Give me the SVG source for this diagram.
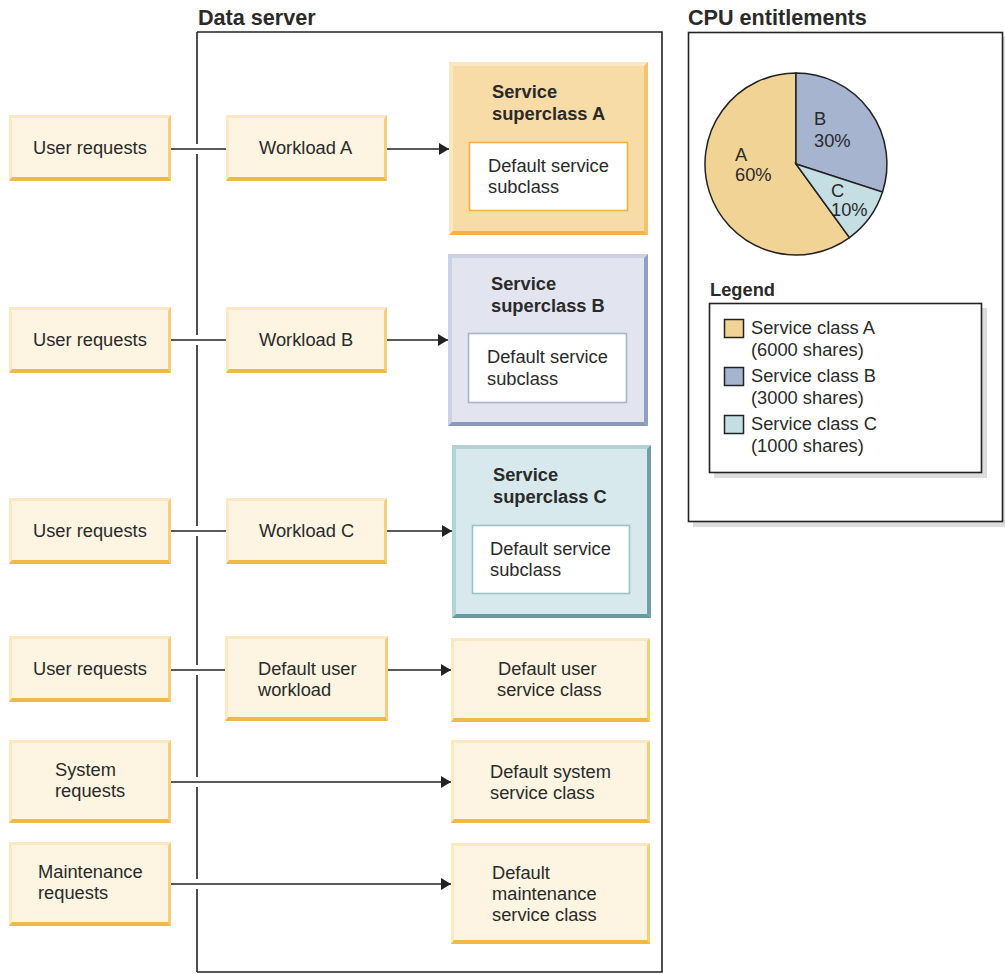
<svg xmlns="http://www.w3.org/2000/svg" width="1005" height="974" viewBox="0 0 1005 974">
<style>
text{font-family:"Liberation Sans",Arial,sans-serif;font-size:18.3px;fill:#2a2a2a}
.b{font-weight:bold}
.t{font-weight:bold;font-size:21.6px}
.fill{fill:#fdf5e1}
.lt{fill:#fde8c4}
.rt{fill:#f6cf7c}
.bt{fill:#f0b947}
.ln{stroke:#222;stroke-width:1.6;fill:none}
.pie{stroke:#222;stroke-width:1.5}
</style>
<defs>
<marker id="ah" markerUnits="userSpaceOnUse" markerWidth="11" markerHeight="12" refX="10" refY="6" orient="auto">
<path d="M0,0 L10,6 L0,12 z" fill="#222"/>
</marker>
</defs>

<text class="t" x="198" y="25">Data server</text>
<text class="t" x="688" y="25">CPU entitlements</text>

<g id="dataserver-frame">
<path class="ln" d="M197,32 H662 V972 H197"/>
<path class="ln" d="M197,32 V144 M197,154 V335 M197,345 V526 M197,536 V665 M197,675 V777 M197,787 V879 M197,889 V972"/>
</g>

<g id="connectors">
<path class="ln" d="M171,149 H226"/>
<path class="ln" d="M387,149 H449" marker-end="url(#ah)"/>
<path class="ln" d="M171,340 H226"/>
<path class="ln" d="M387,340 H448" marker-end="url(#ah)"/>
<path class="ln" d="M171,531 H226"/>
<path class="ln" d="M387,531 H452" marker-end="url(#ah)"/>
<path class="ln" d="M171,670 H225"/>
<path class="ln" d="M388,670 H451" marker-end="url(#ah)"/>
<path class="ln" d="M171,782 H451" marker-end="url(#ah)"/>
<path class="ln" d="M171,884 H451" marker-end="url(#ah)"/>
</g>

<g id="user-requests-1">
<rect class="fill" x="9" y="115" width="162" height="66"/>
<polygon class="lt" points="9,115 171,115 168,118 12,118 12,178 9,181"/>
<polygon class="rt" points="171,115 171,181 168,178 168,118"/>
<polygon class="bt" points="9,181 171,181 168,177 12,177"/>
<text x="33" y="154">User requests</text>
</g>
<g id="workload-a">
<rect class="fill" x="226" y="115" width="161" height="66"/>
<polygon class="lt" points="226,115 387,115 384,118 229,118 229,178 226,181"/>
<polygon class="rt" points="387,115 387,181 384,178 384,118"/>
<polygon class="bt" points="226,181 387,181 384,177 229,177"/>
<text x="259" y="154">Workload A</text>
</g>
<g id="user-requests-2">
<rect class="fill" x="9" y="307" width="162" height="66"/>
<polygon class="lt" points="9,307 171,307 168,310 12,310 12,370 9,373"/>
<polygon class="rt" points="171,307 171,373 168,370 168,310"/>
<polygon class="bt" points="9,373 171,373 168,369 12,369"/>
<text x="33" y="346">User requests</text>
</g>
<g id="workload-b">
<rect class="fill" x="226" y="307" width="161" height="66"/>
<polygon class="lt" points="226,307 387,307 384,310 229,310 229,370 226,373"/>
<polygon class="rt" points="387,307 387,373 384,370 384,310"/>
<polygon class="bt" points="226,373 387,373 384,369 229,369"/>
<text x="259" y="346">Workload B</text>
</g>
<g id="user-requests-3">
<rect class="fill" x="9" y="498" width="162" height="66"/>
<polygon class="lt" points="9,498 171,498 168,501 12,501 12,561 9,564"/>
<polygon class="rt" points="171,498 171,564 168,561 168,501"/>
<polygon class="bt" points="9,564 171,564 168,560 12,560"/>
<text x="33" y="537">User requests</text>
</g>
<g id="workload-c">
<rect class="fill" x="226" y="498" width="161" height="66"/>
<polygon class="lt" points="226,498 387,498 384,501 229,501 229,561 226,564"/>
<polygon class="rt" points="387,498 387,564 384,561 384,501"/>
<polygon class="bt" points="226,564 387,564 384,560 229,560"/>
<text x="259" y="537">Workload C</text>
</g>
<g id="user-requests-4">
<rect class="fill" x="9" y="636" width="162" height="66"/>
<polygon class="lt" points="9,636 171,636 168,639 12,639 12,699 9,702"/>
<polygon class="rt" points="171,636 171,702 168,699 168,639"/>
<polygon class="bt" points="9,702 171,702 168,698 12,698"/>
<text x="33" y="675">User requests</text>
</g>
<g id="default-user-workload">
<rect class="fill" x="225" y="636" width="163" height="85"/>
<polygon class="lt" points="225,636 388,636 385,639 228,639 228,718 225,721"/>
<polygon class="rt" points="388,636 388,721 385,718 385,639"/>
<polygon class="bt" points="225,721 388,721 385,717 228,717"/>
<text x="258" y="675">Default user</text>
<text x="258" y="696">workload</text>
</g>
<g id="system-requests">
<rect class="fill" x="9" y="740" width="162" height="83"/>
<polygon class="lt" points="9,740 171,740 168,743 12,743 12,820 9,823"/>
<polygon class="rt" points="171,740 171,823 168,820 168,743"/>
<polygon class="bt" points="9,823 171,823 168,819 12,819"/>
<text x="55" y="776">System</text>
<text x="55" y="797">requests</text>
</g>
<g id="maintenance-requests">
<rect class="fill" x="9" y="842" width="162" height="84"/>
<polygon class="lt" points="9,842 171,842 168,845 12,845 12,923 9,926"/>
<polygon class="rt" points="171,842 171,926 168,923 168,845"/>
<polygon class="bt" points="9,926 171,926 168,922 12,922"/>
<text x="38" y="878">Maintenance</text>
<text x="38" y="899">requests</text>
</g>

<g id="superclass-a">
<rect x="449" y="62" width="199" height="173" fill="#f8dca8"/>
<polygon fill="#fbe6c2" points="449,62 648,62 644,66 453,66 453,231 449,235"/>
<polygon fill="#f3c469" points="648,62 648,235 644,231 644,66"/>
<polygon fill="#f0b545" points="449,235 648,235 644,231 453,231"/>
<text class="b" x="492" y="98">Service</text>
<text class="b" x="492" y="120">superclass A</text>
<rect x="469.5" y="142.5" width="158" height="68" fill="#fff" stroke="#f0b240" stroke-width="1.6"/>
<text x="488" y="172">Default service</text>
<text x="488" y="193">subclass</text>
</g>
<g id="superclass-b">
<rect x="448" y="254" width="200" height="172" fill="#e2e5f0"/>
<polygon fill="#ccd2e4" points="448,254 648,254 644,258 452,258 452,422 448,426"/>
<polygon fill="#909ebf" points="648,254 648,426 644,422 644,258"/>
<polygon fill="#8a98ba" points="448,426 648,426 644,422 452,422"/>
<text class="b" x="491" y="290">Service</text>
<text class="b" x="491" y="312">superclass B</text>
<rect x="468.5" y="333.5" width="158" height="69" fill="#fff" stroke="#a9b3cc" stroke-width="1.6"/>
<text x="487" y="363">Default service</text>
<text x="487" y="385">subclass</text>
</g>
<g id="superclass-c">
<rect x="452" y="445" width="199" height="173" fill="#d7e9ec"/>
<polygon fill="#b5d3d7" points="452,445 651,445 647,449 456,449 456,614 452,618"/>
<polygon fill="#70a0a6" points="651,445 651,618 647,614 647,449"/>
<polygon fill="#6a9aa1" points="452,618 651,618 647,614 456,614"/>
<text class="b" x="493" y="481">Service</text>
<text class="b" x="493" y="503">superclass C</text>
<rect x="472.5" y="525.5" width="157" height="68" fill="#fff" stroke="#9cc1c6" stroke-width="1.6"/>
<text x="490" y="555">Default service</text>
<text x="490" y="576">subclass</text>
</g>
<g id="default-user-service-class">
<rect class="fill" x="451" y="638" width="199" height="84"/>
<polygon class="lt" points="451,638 650,638 647,641 454,641 454,719 451,722"/>
<polygon class="rt" points="650,638 650,722 647,719 647,641"/>
<polygon class="bt" points="451,722 650,722 647,718 454,718"/>
<text x="498" y="675">Default user</text>
<text x="497" y="696">service class</text>
</g>
<g id="default-system-service-class">
<rect class="fill" x="451" y="740" width="199" height="83"/>
<polygon class="lt" points="451,740 650,740 647,743 454,743 454,820 451,823"/>
<polygon class="rt" points="650,740 650,823 647,820 647,743"/>
<polygon class="bt" points="451,823 650,823 647,819 454,819"/>
<text x="490" y="778">Default system</text>
<text x="490" y="799">service class</text>
</g>
<g id="default-maintenance-service-class">
<rect class="fill" x="451" y="843" width="199" height="101"/>
<polygon class="lt" points="451,843 650,843 647,846 454,846 454,941 451,944"/>
<polygon class="rt" points="650,843 650,944 647,941 647,846"/>
<polygon class="bt" points="451,944 650,944 647,940 454,940"/>
<text x="492" y="879">Default</text>
<text x="492" y="900">maintenance</text>
<text x="492" y="921">service class</text>
</g>

<g id="cpu-entitlements">
<rect x="693" y="37" width="314" height="490" fill="#dcdcdc"/>
<rect x="688.5" y="32.5" width="314" height="489" fill="#fff" stroke="#222" stroke-width="1.6"/>
<path class="pie" fill="#f2d396" d="M796,164 L849.5,237.6 A91,91 0 1,1 796,73 Z"/>
<path class="pie" fill="#a6b4d0" d="M796,164 L796,73 A91,91 0 0,1 882.5,192.1 Z"/>
<path class="pie" fill="#c4dee3" d="M796,164 L882.5,192.1 A91,91 0 0,1 849.5,237.6 Z"/>
<text x="735" y="161">A</text>
<text x="735" y="181">60%</text>
<text x="814" y="125">B</text>
<text x="814" y="147">30%</text>
<text x="831" y="197">C</text>
<text x="831" y="216">10%</text>
<text class="b" x="710" y="296">Legend</text>
<rect x="714" y="308" width="273" height="170" fill="#dcdcdc"/>
<rect x="709.5" y="303.5" width="272" height="169" fill="#fff" stroke="#222" stroke-width="1.6"/>
<rect x="724.5" y="319.5" width="19" height="18" fill="#f2d396" stroke="#222" stroke-width="1.5"/>
<rect x="724.5" y="367.5" width="19" height="18" fill="#a6b4d0" stroke="#222" stroke-width="1.5"/>
<rect x="724.5" y="415.5" width="19" height="18" fill="#c4dee3" stroke="#222" stroke-width="1.5"/>
<text x="751" y="334">Service class A</text>
<text x="751" y="356">(6000 shares)</text>
<text x="751" y="382">Service class B</text>
<text x="751" y="404">(3000 shares)</text>
<text x="751" y="430">Service class C</text>
<text x="751" y="452">(1000 shares)</text>
</g>
</svg>
